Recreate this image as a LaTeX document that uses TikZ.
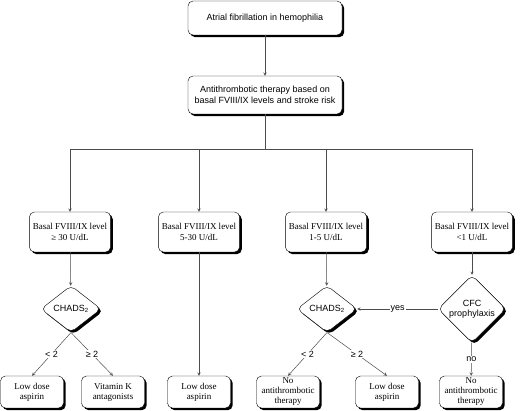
\documentclass[tikz,border=0pt]{standalone}
\usepackage{fontspec}
\setmainfont{Liberation Serif}
\setsansfont{Liberation Sans}
\usetikzlibrary{shapes.geometric,shadows}

\begin{document}
\begin{tikzpicture}[x=1pt, y=-1pt,
	shadowed/.style={drop shadow={shadow xshift=2.2pt, shadow yshift=-2.2pt, fill=black, opacity=1}},
	topbox/.style={draw, rectangle, rounded corners=5pt, fill=white, shadowed, align=center, font=\sffamily\fontsize{9}{11}\selectfont, minimum width=154pt, minimum height=34pt},
	levelbox/.style={draw, rectangle, rounded corners=5pt, fill=white, shadowed, align=center, font=\fontsize{9}{11}\selectfont, minimum width=80pt, minimum height=40pt},
	leafbox/.style={draw, rectangle, rounded corners=5pt, fill=white, shadowed, align=center, inner sep=1pt, font=\fontsize{9}{10}\selectfont, minimum width=63pt, minimum height=32pt},
	choice/.style={draw, diamond, rounded corners=5pt, fill=white, shadowed, align=center, inner sep=1pt, font=\sffamily\fontsize{9}{10}\selectfont, minimum width=60pt, minimum height=40pt},
	link/.style={->, >=stealth, draw=black!70, line width=0.5pt},
	tag/.style={fill=white, inner sep=1pt, font=\sffamily\fontsize{9}{10}\selectfont}]
	\useasboundingbox (0,0) rectangle (520,411);
	\node[topbox] (AF)at(265, 18) {Atrial fibrillation in hemophilia};
	\node[topbox, minimum height=38pt] (AT)at(265, 95) {Antithrombotic therapy based on\\basal FVIII/IX levels and stroke risk};
	\coordinate (split)at(265, 149);
	\coordinate (s1)at(70, 149);
	\coordinate (s2)at(199, 149);
	\coordinate (s3)at(326, 149);
	\coordinate (s4)at(472, 149);
	\node[levelbox] (L1)at(70, 232) {Basal FVIII/IX level\\≥ 30 U/dL};
	\node[levelbox] (L2)at(199, 232) {Basal FVIII/IX level\\5-30 U/dL};
	\node[levelbox] (L3)at(326, 232) {Basal FVIII/IX level\\1-5 U/dL};
	\node[levelbox] (L4)at(472, 232) {Basal FVIII/IX level\\<1 U/dL};
	\node[choice] (C1)at(71, 309) {CHADS\textsubscript{2}};
	\node[choice] (C3)at(327, 309) {CHADS\textsubscript{2}};
	\node[choice, minimum height=44pt] (CFC)at(472, 309) {CFC\\prophylaxis};
	\node[leafbox] (A1)at(32, 392) {Low dose\\aspirin};
	\node[leafbox] (VK)at(113, 392) {Vitamin K\\antagonists};
	\node[leafbox] (A2)at(199, 392) {Low dose\\aspirin};
	\node[leafbox] (N3)at(288, 392) {No\\antithrombotic\\therapy};
	\node[leafbox] (A3)at(387, 392) {Low dose\\aspirin};
	\node[leafbox] (N4)at(471, 392) {No\\antithrombotic\\therapy};
	\draw[link] (AF) -- (AT);
	\draw[link, -] (AT) -- (split);
	\draw[link, -] (s1) -- (s4);
	\foreach \s/\l in {s1/L1, s2/L2, s3/L3, s4/L4}
		\draw[link] (\s) -- (\l);
	\draw[link] (L1) -- (C1);
	\draw[link] (L2) -- (A2);
	\draw[link] (L3) -- (C3);
	\draw[link] (L4) -- (CFC);
	\draw[link] (C1.south) -- node[tag] {< 2} (A1.north);
	\draw[link] (C1.south) -- node[tag] {≥ 2} (VK.north);
	\draw[link] (C3.south) -- node[tag] {< 2} (N3.north);
	\draw[link] (C3.south) -- node[tag] {≥ 2} (A3.north);
	\draw[link] (CFC) -- node[tag] {yes} (C3);
	\draw[link] (CFC) -- node[tag] {no} (N4);
\end{tikzpicture}
\end{document}
